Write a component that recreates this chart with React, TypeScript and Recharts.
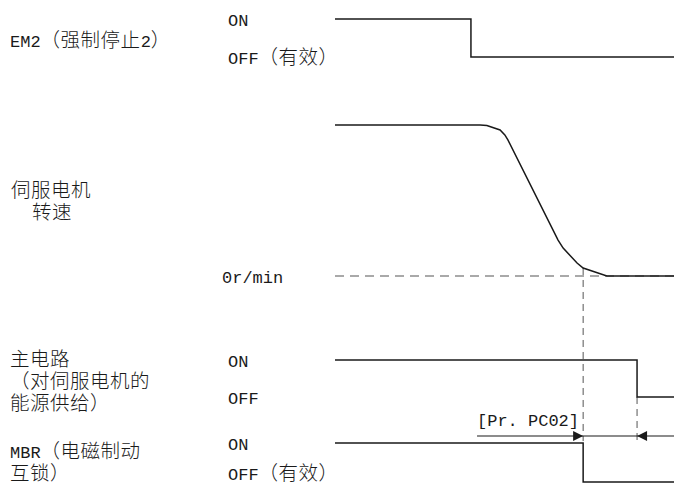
import { LineChart, Line, XAxis, YAxis, ReferenceLine, ReferenceDot } from 'recharts'

// time axis (arbitrary units, 0..100)
const em2Time = [0, 40.1, 40.1, 100]
const em2Level = [1, 1, 0, 0]

const speedTime = [0, 42.8, 44.8, 48.7, 50.1, 51.0, 65.8, 67.3, 71.4, 73.2, 80.2, 100]
const speedPct = [100, 100, 99.7, 96.7, 93.4, 90.1, 23.8, 18.5, 8.6, 5.3, 0, 0]

const mainTime = [0, 89.1, 89.1, 100]
const mainLevel = [1, 1, 0, 0]

const mbrTime = [0, 73.2, 73.2, 100]
const mbrLevel = [1, 1, 0, 0]

const zeroLineTime = [0, 100]

const brakeOnTime = 73.2 // MBR off / PC02 start
const powerOffTime = 89.1 // main circuit off / PC02 end
const pc02ArrowStart = 41.9
const pc02Level = 1.18 // in MBR lane units
const guideBottom = 1.05 // in MBR lane units
const guideTopSpeed = 5.3

const em2Label = ['EM2（强制停止2）']
const speedLabel = ['伺服电机', '转速']
const mainLabel = ['主电路', '（对伺服电机的', '能源供给）']
const mbrLabel = ['MBR（电磁制动', '互锁）']
const stateLabels = ['ON', 'OFF（有效）', '0r/min', 'ON', 'OFF', 'ON', 'OFF（有效）']
const pc02Label = '[Pr. PC02]'

const W = 674
const H = 485

// lane placement: pixel of high level, pixel of low level, value of high level
const lanes = {
  em2: { hi: 19, lo: 57, max: 1 },
  speed: { hi: 125, lo: 276, max: 100 },
  main: { hi: 360, lo: 397, max: 1 },
  mbr: { hi: 443, lo: 482, max: 1 },
}

type Lane = { hi: number; lo: number; max: number }

function laneDomain(l: Lane): [number, number] {
  const k = l.max / (l.lo - l.hi)
  return [-(H - l.lo) * k, l.max + l.hi * k]
}

function toLane(from: Lane, v: number, to: Lane): number {
  const px = from.lo - (v * (from.lo - from.hi)) / from.max
  return ((to.lo - px) * to.max) / (to.lo - to.hi)
}

const zip = (t: number[], v: number[]) => t.map((x, i) => ({ t: x, v: v[i] }))

const em2Data = zip(em2Time, em2Level)
const speedData = zip(speedTime, speedPct)
const mainData = zip(mainTime, mainLevel)
const mbrData = zip(mbrTime, mbrLevel)
const zeroData = zeroLineTime.map(t => ({ t, v: 0 }))

const LATIN = '"Liberation Mono", monospace'
const CJK = '"Noto Sans CJK SC", sans-serif'
const INK = '#1a1a1a'
const CJK_RE = /[\u3000-\u9fff\uff00-\uffef]/

// split text into latin / cjk runs so each can use its own font
function Runs({ s }: { s: string }) {
  return (
    <>
      {s
        .split(/([\u3000-\u9fff\uff00-\uffef]+)/)
        .filter(Boolean)
        .map((r, i) =>
          CJK_RE.test(r) ? (
            <span key={i} style={{ fontFamily: CJK, fontSize: 19.5, fontWeight: 300, letterSpacing: 0.5 }}>{r}</span>
          ) : (
            <span key={i} style={{ fontFamily: LATIN, fontSize: 17 }}>{r}</span>
          )
        )}
    </>
  )
}

// block of lines; y is the centre of the first line
function Txt({ x, y, lines, lh = 22, indent = [] }: { x: number; y: number; lines: string[]; lh?: number; indent?: number[] }) {
  return (
    <div style={{ position: 'absolute', left: x, top: y - lh / 2, lineHeight: `${lh}px`, whiteSpace: 'pre', color: INK }}>
      {lines.map((s, i) => (
        <div key={i} style={{ height: lh, marginLeft: indent[i] || 0 }}>
          <Runs s={s} />
        </div>
      ))}
    </div>
  )
}

function ArrowHead({ cx, cy, dir }: { cx?: number; cy?: number; dir: number }) {
  if (cx == null || cy == null) return null
  const b = cx - dir * 10
  return <path d={`M${cx},${cy} L${b},${cy - 5} L${b},${cy + 5} Z`} fill={INK} />
}

export default function App() {
  const guide2Top = toLane(lanes.main, 0, lanes.mbr)
  const guide1TopMbr = toLane(lanes.speed, guideTopSpeed, lanes.mbr)

  return (
    <div style={{ position: 'absolute', left: 0, top: 0, width: W, height: H, background: '#fff', overflow: 'hidden' }}>
      <LineChart width={W} height={H} margin={{ top: 0, right: 0, bottom: 0, left: 335 }}>
        <XAxis dataKey="t" type="number" domain={[0, 100]} hide allowDataOverflow />
        <YAxis yAxisId="em2" type="number" domain={laneDomain(lanes.em2)} hide allowDataOverflow />
        <YAxis yAxisId="speed" type="number" domain={laneDomain(lanes.speed)} hide allowDataOverflow />
        <YAxis yAxisId="main" type="number" domain={laneDomain(lanes.main)} hide allowDataOverflow />
        <YAxis yAxisId="mbr" type="number" domain={laneDomain(lanes.mbr)} hide allowDataOverflow />

        <Line yAxisId="speed" data={zeroData} dataKey="v" type="linear" stroke="#555" strokeWidth={1.2} strokeDasharray="9 6" dot={false} isAnimationActive={false} />

        <ReferenceLine
          yAxisId="mbr"
          segment={[{ x: brakeOnTime, y: guide1TopMbr }, { x: brakeOnTime, y: guideBottom }]}
          stroke="#555"
          strokeDasharray="7 5"
          strokeWidth={1}
          ifOverflow="visible"
        />
        <ReferenceLine
          yAxisId="mbr"
          segment={[{ x: powerOffTime, y: guide2Top }, { x: powerOffTime, y: guideBottom }]}
          stroke="#555"
          strokeDasharray="7 5"
          strokeWidth={1}
          ifOverflow="visible"
        />
        <ReferenceLine
          yAxisId="mbr"
          segment={[{ x: pc02ArrowStart, y: pc02Level }, { x: 100, y: pc02Level }]}
          stroke={INK}
          strokeWidth={1.2}
          ifOverflow="visible"
        />
        <ReferenceDot yAxisId="mbr" x={brakeOnTime} y={pc02Level} r={0} ifOverflow="visible" shape={(p: any) => <ArrowHead cx={p.cx} cy={p.cy} dir={1} />} />
        <ReferenceDot yAxisId="mbr" x={powerOffTime} y={pc02Level} r={0} ifOverflow="visible" shape={(p: any) => <ArrowHead cx={p.cx} cy={p.cy} dir={-1} />} />

        <Line yAxisId="em2" data={em2Data} dataKey="v" type="linear" stroke={INK} strokeWidth={1.5} dot={false} isAnimationActive={false} />
        <Line yAxisId="speed" data={speedData} dataKey="v" type="linear" stroke={INK} strokeWidth={1.5} dot={false} isAnimationActive={false} />
        <Line yAxisId="main" data={mainData} dataKey="v" type="linear" stroke={INK} strokeWidth={1.5} dot={false} isAnimationActive={false} />
        <Line yAxisId="mbr" data={mbrData} dataKey="v" type="linear" stroke={INK} strokeWidth={1.5} dot={false} isAnimationActive={false} />
      </LineChart>

      <Txt x={10} y={39} lines={em2Label} />
      <Txt x={11} y={189} lines={speedLabel} indent={[0, 21]} />
      <Txt x={10} y={358} lines={mainLabel} />
      <Txt x={10} y={450} lines={mbrLabel} />

      <Txt x={228} y={21} lines={[stateLabels[0]]} />
      <Txt x={228} y={56} lines={[stateLabels[1]]} />
      <Txt x={222} y={278} lines={[stateLabels[2]]} />
      <Txt x={228} y={362} lines={[stateLabels[3]]} />
      <Txt x={228} y={399} lines={[stateLabels[4]]} />
      <Txt x={228} y={445} lines={[stateLabels[5]]} />
      <Txt x={228} y={472} lines={[stateLabels[6]]} />

      <Txt x={477} y={421} lines={[pc02Label]} />
    </div>
  )
}
